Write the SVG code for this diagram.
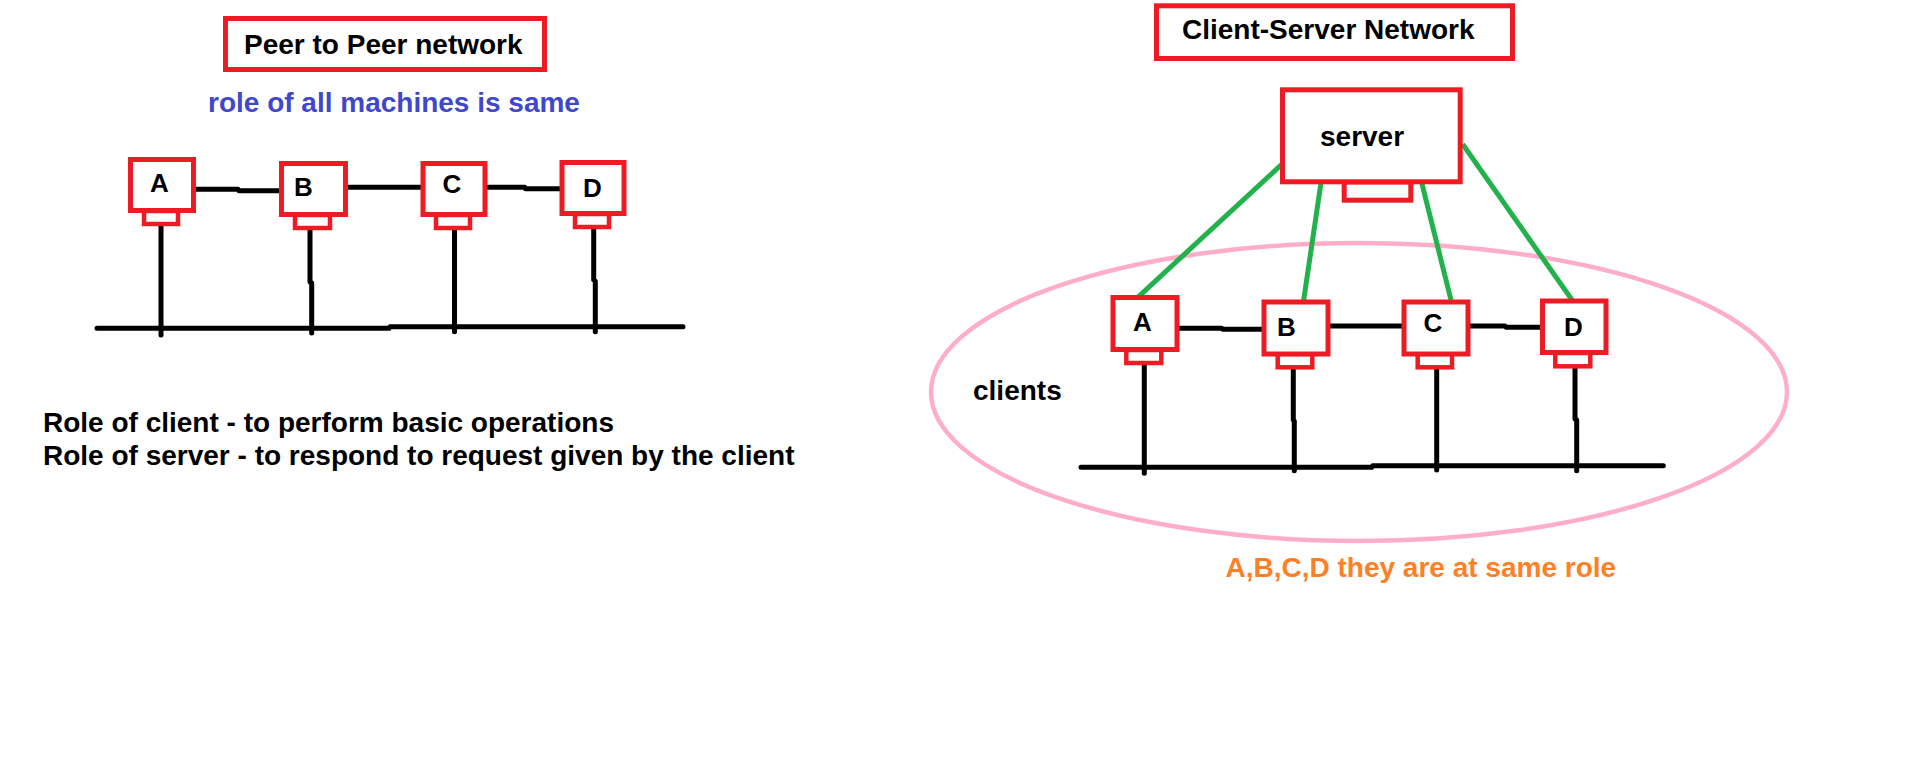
<svg xmlns="http://www.w3.org/2000/svg" width="1914" height="773" viewBox="0 0 1914 773">
<style>
.box{fill:#fff;stroke:#ED1C24;stroke-width:5}
.base{fill:#fff;stroke:#ED1C24;stroke-width:4.5}
.wire{fill:none;stroke:#000;stroke-width:5;stroke-linecap:round;stroke-linejoin:round}
.link{fill:none;stroke:#22B14C;stroke-width:5;stroke-linecap:butt}
.t{font-family:"Liberation Sans",Arial,sans-serif;font-weight:bold;font-size:28px;fill:#000}
.lbl{font-family:"Liberation Sans",Arial,sans-serif;font-weight:bold;font-size:26px;fill:#000;text-anchor:middle}
</style>
<rect width="1914" height="773" fill="#fff"/>

<!-- Peer to Peer side -->
<g id="p2p-title">
<rect class="box" x="225.5" y="18.5" width="319" height="51"/>
<text class="t" x="244" y="54">Peer to Peer network</text>
</g>
<g id="p2p-note">
<text class="t" x="208" y="112" style="fill:#3F48CC">role of all machines is same</text>
</g>
<g id="roles-text">
<text class="t" x="43" y="432">Role of client - to perform basic operations</text>
<text class="t" x="43" y="465">Role of server - to respond to request given by the client</text>
</g>

<!-- Client-Server side -->
<g id="cs-title">
<rect class="box" x="1156.5" y="5.8" width="356" height="52.7"/>
<text class="t" x="1182" y="38.5">Client-Server Network</text>
</g>
<g id="clients-group">
<ellipse cx="1359" cy="392" rx="428" ry="149" fill="none" stroke="#FFAEC9" stroke-width="4.5"/>
<text class="t" x="973" y="400">clients</text>
</g>
<g id="cs-note">
<text class="t" x="1225.5" y="576.7" style="fill:#FF7F27">A,B,C,D they are at same role</text>
</g>

<!-- connectors -->
<g id="connectors">
<path class="wire" d="M196 189.3H238L239 190.7H282.7"/>
<path class="wire" d="M345.6 187.3H429"/>
<path class="wire" d="M486 187.3H524.7L525.5 188.7H563"/>
<path class="wire" d="M161 224V335"/>
<path class="wire" d="M310 228V282L311.7 283V333"/>
<path class="wire" d="M454.5 228V331.7"/>
<path class="wire" d="M593.7 227V280L595.3 281V331.7"/>
<path class="wire" d="M97 328.3H389L390 326.7H683"/>

<path class="link" d="M1284.7 161.7L1136.7 298.3"/>
<path class="link" d="M1321 182.7L1303.3 302.7"/>
<path class="link" d="M1421.7 182.7L1451 300"/>
<path class="link" d="M1462.7 144.3L1574 302.7"/>

<path class="wire" d="M1178.3 328.3H1221.7L1222.7 329.3H1265.7"/>
<path class="wire" d="M1326 326H1411.7"/>
<path class="wire" d="M1466 326H1505L1506 327.3H1545"/>
<path class="wire" d="M1144.3 363V473.3"/>
<path class="wire" d="M1293.3 370V420L1294.3 421V470.7"/>
<path class="wire" d="M1436.7 369V470"/>
<path class="wire" d="M1575 367V419L1576.7 420V470.7"/>
<path class="wire" d="M1081 467.3H1371.7L1372.7 465.7H1663.3"/>
</g>

<!-- P2P nodes -->
<g id="p2p-A">
<rect class="base" x="144" y="211" width="34" height="13"/>
<rect class="box" x="130.5" y="159.5" width="63" height="51"/>
<text class="lbl" x="159.5" y="191.7">A</text>
</g>
<g id="p2p-B">
<rect class="base" x="295" y="215" width="35" height="13"/>
<rect class="box" x="281.5" y="163.5" width="64" height="51"/>
<text class="lbl" x="303.4" y="196">B</text>
</g>
<g id="p2p-C">
<rect class="base" x="436" y="215" width="34" height="13"/>
<rect class="box" x="423" y="163.5" width="62" height="51"/>
<text class="lbl" x="452" y="193">C</text>
</g>
<g id="p2p-D">
<rect class="base" x="575" y="214" width="34" height="13"/>
<rect class="box" x="562" y="162.5" width="62" height="51"/>
<text class="lbl" x="592.5" y="196.7">D</text>
</g>

<!-- Server -->
<g id="server">
<rect class="box" x="1344.2" y="182" width="66.6" height="18.2"/>
<rect class="box" x="1282.5" y="89.8" width="177.7" height="92"/>
<text class="t" x="1320" y="145.7">server</text>
</g>

<!-- Client nodes -->
<g id="cs-A">
<rect class="base" x="1126.3" y="350" width="35" height="13"/>
<rect class="box" x="1113" y="297.5" width="64" height="52"/>
<text class="lbl" x="1142.4" y="331">A</text>
</g>
<g id="cs-B">
<rect class="base" x="1277.7" y="354" width="34.6" height="13.3"/>
<rect class="box" x="1264" y="302" width="64" height="52"/>
<text class="lbl" x="1286.5" y="335.7">B</text>
</g>
<g id="cs-C">
<rect class="base" x="1417.7" y="354" width="34.3" height="13.3"/>
<rect class="box" x="1404" y="302" width="64" height="52"/>
<text class="lbl" x="1433" y="332.3">C</text>
</g>
<g id="cs-D">
<rect class="base" x="1555.3" y="353" width="35" height="13.3"/>
<rect class="box" x="1542.5" y="301" width="63.5" height="51.5"/>
<text class="lbl" x="1573.4" y="336">D</text>
</g>
</svg>
